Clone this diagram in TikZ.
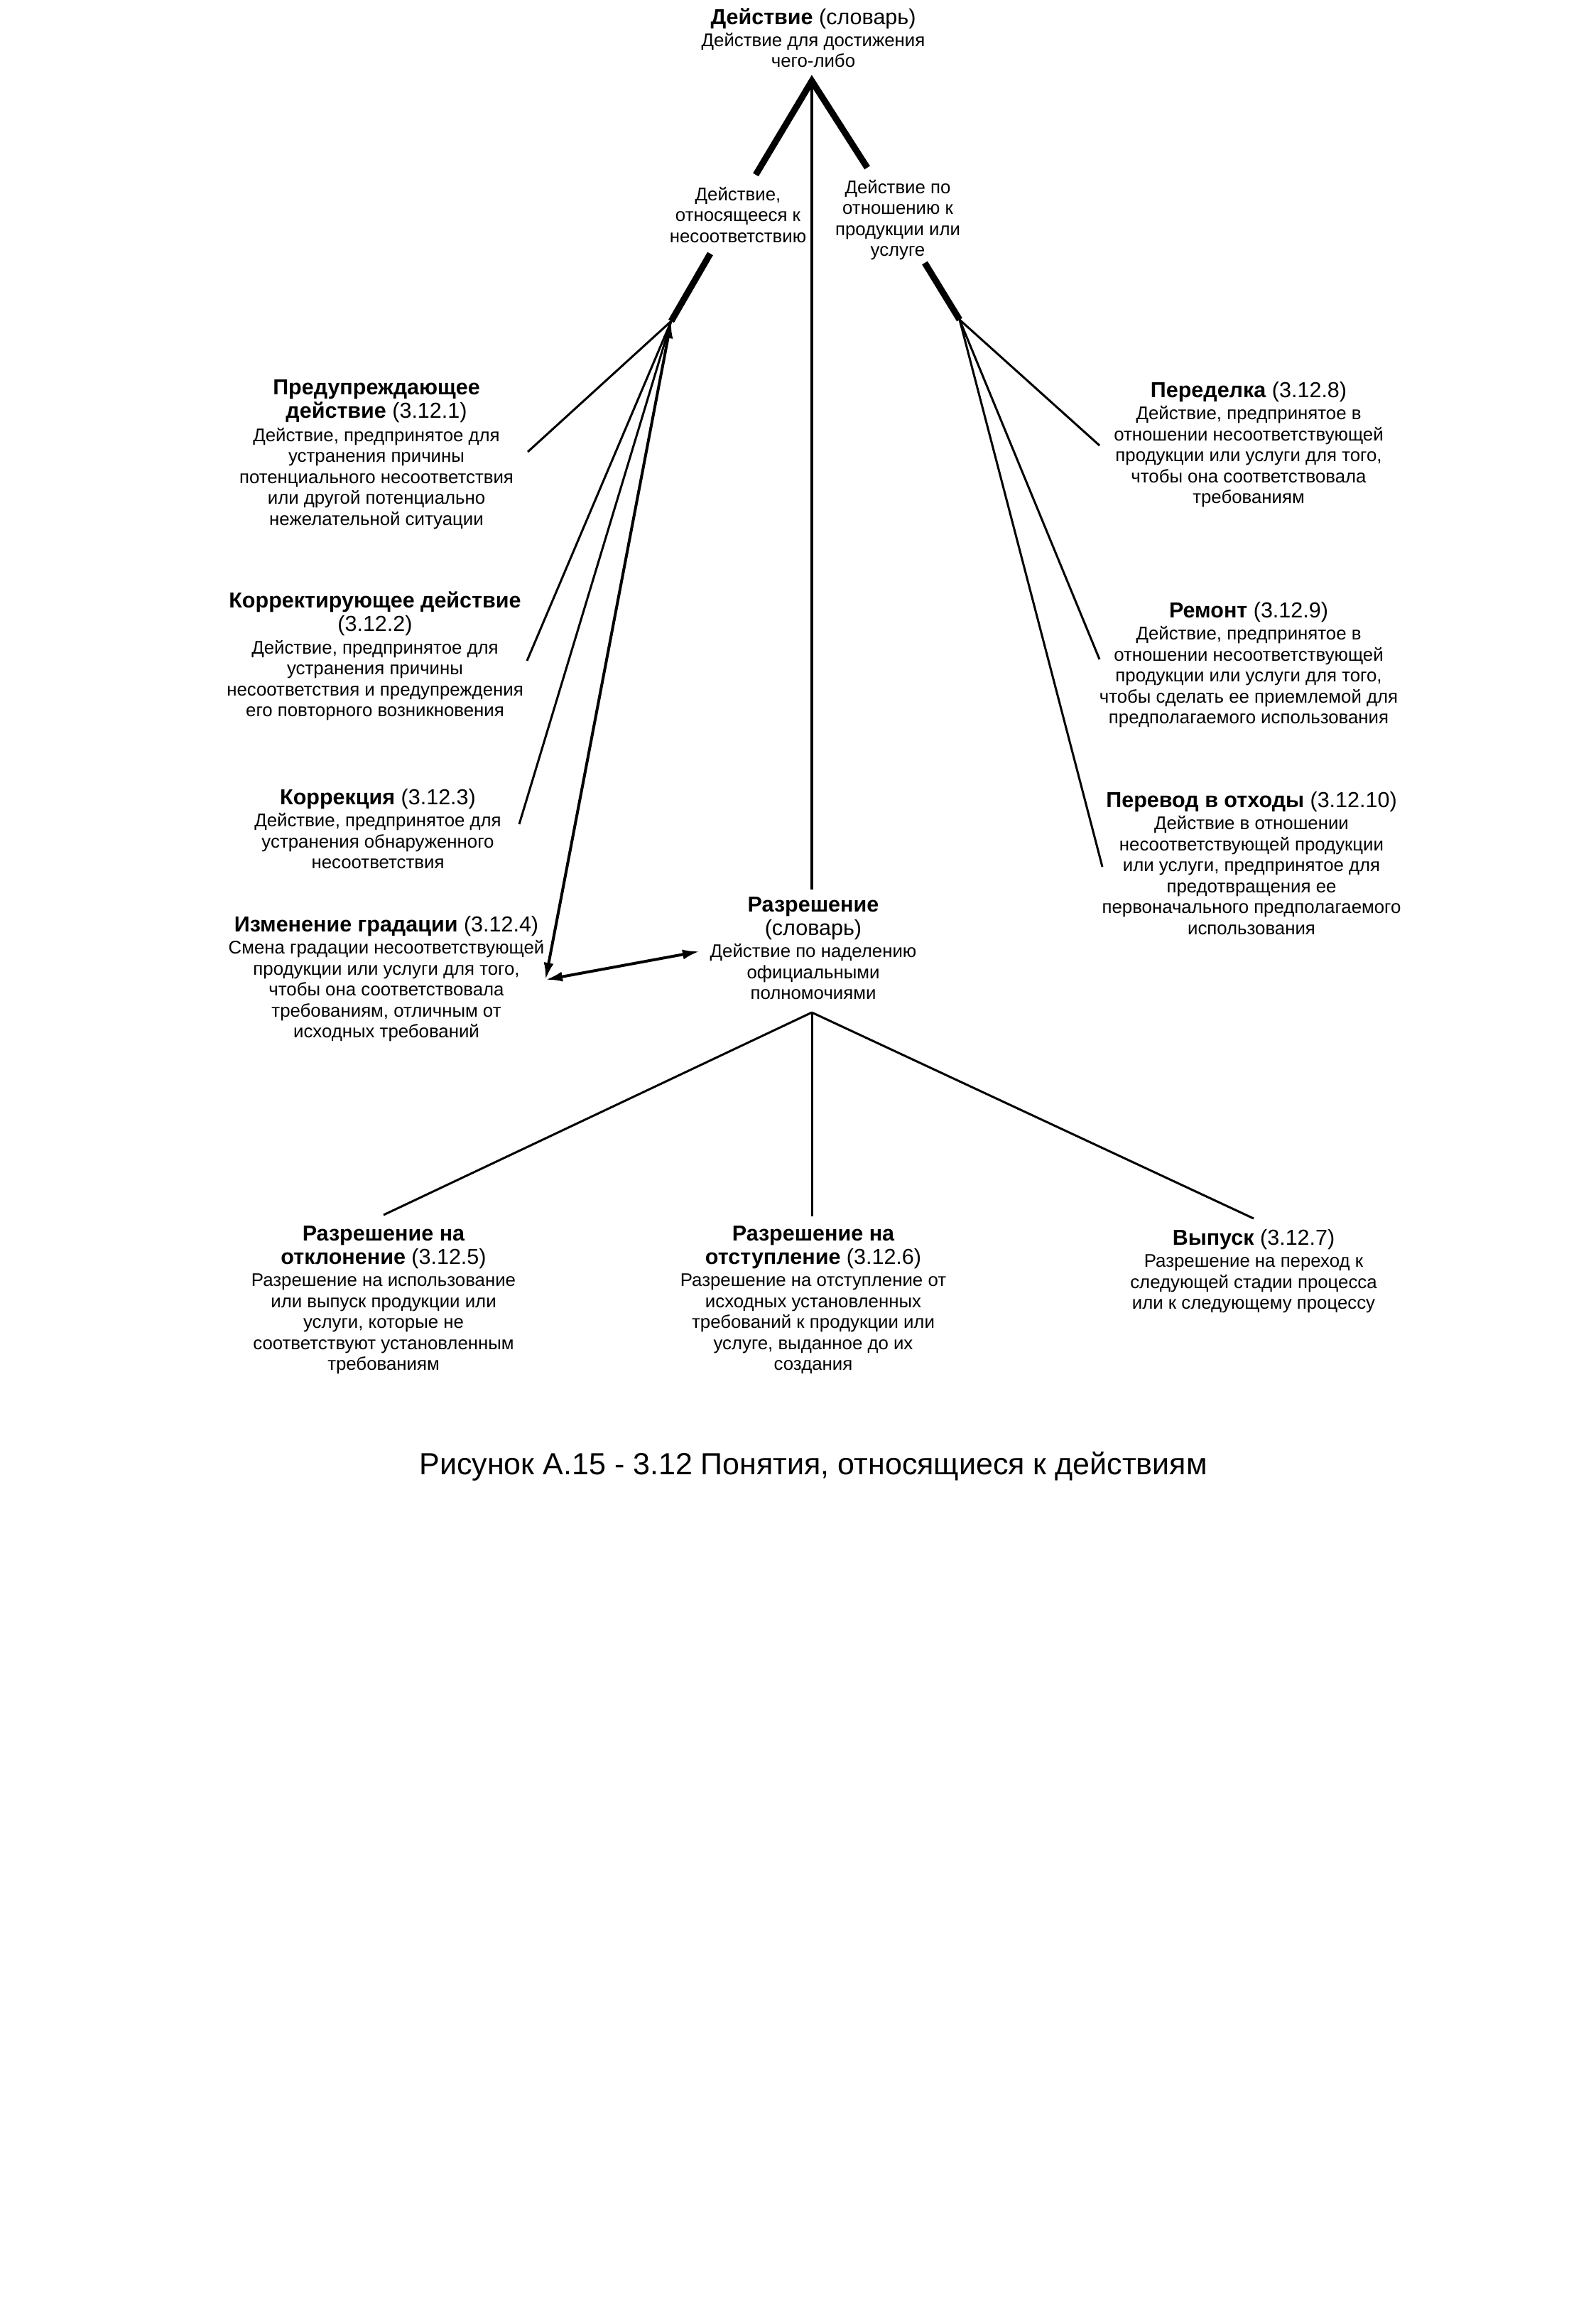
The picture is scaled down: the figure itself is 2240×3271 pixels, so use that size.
\documentclass[tikz,border=0pt]{standalone}
\usepackage{fontspec}
\setmainfont{Liberation Sans}
\usetikzlibrary{arrows.meta}
\newcommand{\hdf}{\fontsize{30.5}{33}\selectfont}
\newcommand{\bdf}{\fontsize{25.8}{29.5}\selectfont}
\begin{document}
\begin{tikzpicture}[x=1pt,y=-1pt,
  txt/.style={align=center, inner sep=0pt, anchor=north, font=\bdf},
  thinline/.style={line width=3pt},
  thickline/.style={line width=9pt, line join=miter},
  vline/.style={line width=4pt},
  arr/.style={line width=4pt, {Latex[length=24pt,width=14pt]}-{Latex[length=24pt,width=14pt]}}]
\useasboundingbox[fill=white] (0,0) rectangle (2240,3271);

% text nodes
\node[txt] (top) at (1145,12) {{\hdf\textbf{Действие} (словарь)}\\[1pt]Действие для достижения\\чего-либо};
\node[txt] (lmid) at (1039,263) {Действие,\\относящееся к\\несоответствию};
\node[txt] (rmid) at (1264,253) {Действие по\\отношению к\\продукции или\\услуге};

\node[txt] (n1) at (530,534) {{\hdf\bfseries Предупреждающее}\\[3.5pt]{\hdf\textbf{действие} (3.12.1)}\\[3.5pt]Действие, предпринятое для\\устранения причины\\потенциального несоответствия\\или другой потенциально\\нежелательной ситуации};
\node[txt] (n2) at (528,833) {{\hdf\bfseries Корректирующее действие}\\[3.5pt]{\hdf(3.12.2)}\\[2pt]Действие, предпринятое для\\устранения причины\\несоответствия и предупреждения\\его повторного возникновения};
\node[txt] (n3) at (532,1110) {{\hdf\textbf{Коррекция} (3.12.3)}\\[2pt]Действие, предпринятое для\\устранения обнаруженного\\несоответствия};
\node[txt] (n4) at (544,1289) {{\hdf\textbf{Изменение градации} (3.12.4)}\\[2pt]Смена градации несоответствующей\\продукции или услуги для того,\\чтобы она соответствовала\\требованиям, отличным от\\исходных требований};

\node[txt] (n8) at (1758,537) {{\hdf\textbf{Переделка} (3.12.8)}\\[2pt]Действие, предпринятое в\\отношении несоответствующей\\продукции или услуги для того,\\чтобы она соответствовала\\требованиям};
\node[txt] (n9) at (1758,847) {{\hdf\textbf{Ремонт} (3.12.9)}\\[2pt]Действие, предпринятое в\\отношении несоответствующей\\продукции или услуги для того,\\чтобы сделать ее приемлемой для\\предполагаемого использования};
\node[txt] (n10) at (1762,1114) {{\hdf\textbf{Перевод в отходы} (3.12.10)}\\[2pt]Действие в отношении\\несоответствующей продукции\\или услуги, предпринятое для\\предотвращения ее\\первоначального предполагаемого\\использования};

\node[txt] (razr) at (1145,1262) {{\hdf\bfseries Разрешение}\\[3.5pt]{\hdf(словарь)}\\[2pt]Действие по наделению\\официальными\\полномочиями};

\node[txt] (n5) at (540,1725) {{\hdf\bfseries Разрешение на}\\[3.5pt]{\hdf\textbf{отклонение} (3.12.5)}\\[2pt]Разрешение на использование\\или выпуск продукции или\\услуги, которые не\\соответствуют установленным\\требованиям};
\node[txt] (n6) at (1145,1725) {{\hdf\bfseries Разрешение на}\\[3.5pt]{\hdf\textbf{отступление} (3.12.6)}\\[2pt]Разрешение на отступление от\\исходных установленных\\требований к продукции или\\услуге, выданное до их\\создания};
\node[txt] (n7) at (1765,1730) {{\hdf\textbf{Выпуск} (3.12.7)}\\[2pt]Разрешение на переход к\\следующей стадии процесса\\или к следующему процессу};

\node[txt, font=\fontsize{43}{50}\selectfont] (cap) at (1145,2043) {Рисунок А.15 - 3.12 Понятия, относящиеся к действиям};

% junction points
\coordinate (A) at (1143,114);
\coordinate (La) at (1064,246);
\coordinate (Lb) at (1000,357);
\coordinate (Lh) at (945,452);
\coordinate (Ra) at (1221,236);
\coordinate (Rb) at (1302,370);
\coordinate (Rh) at (1351,450);
\coordinate (V) at (1143,1252);
\coordinate (B) at (1143,1425);
\coordinate (e1) at (743,636);
\coordinate (e2) at (742,930);
\coordinate (e3) at (731,1160);
\coordinate (e4) at (768,1379);
\coordinate (er) at (985,1339);
\coordinate (e8) at (1548,627);
\coordinate (e9) at (1548,928);
\coordinate (e10) at (1552,1220);
\coordinate (b5) at (540,1710);
\coordinate (b6) at (1143,1712);
\coordinate (b7) at (1765,1715);

% connectors
\draw[thickline] (La) -- (A) -- (Ra);
\draw[thickline] (Lb) -- (Lh);
\draw[thickline] (Rb) -- (Rh);
\draw[vline] (A) -- (V);
\draw[thinline] (Lh) -- (e1);
\draw[thinline] (Lh) -- (e2);
\draw[thinline] (Lh) -- (e3);
\draw[arr] (Lh) -- (e4);
\draw[arr] (e4) -- (er);
\draw[thinline] (Rh) -- (e8);
\draw[thinline] (Rh) -- (e9);
\draw[thinline] (Rh) -- (e10);
\draw[thinline] (B) -- (b5);
\draw[thinline] (B) -- (b6);
\draw[thinline] (B) -- (b7);
\end{tikzpicture}
\end{document}
